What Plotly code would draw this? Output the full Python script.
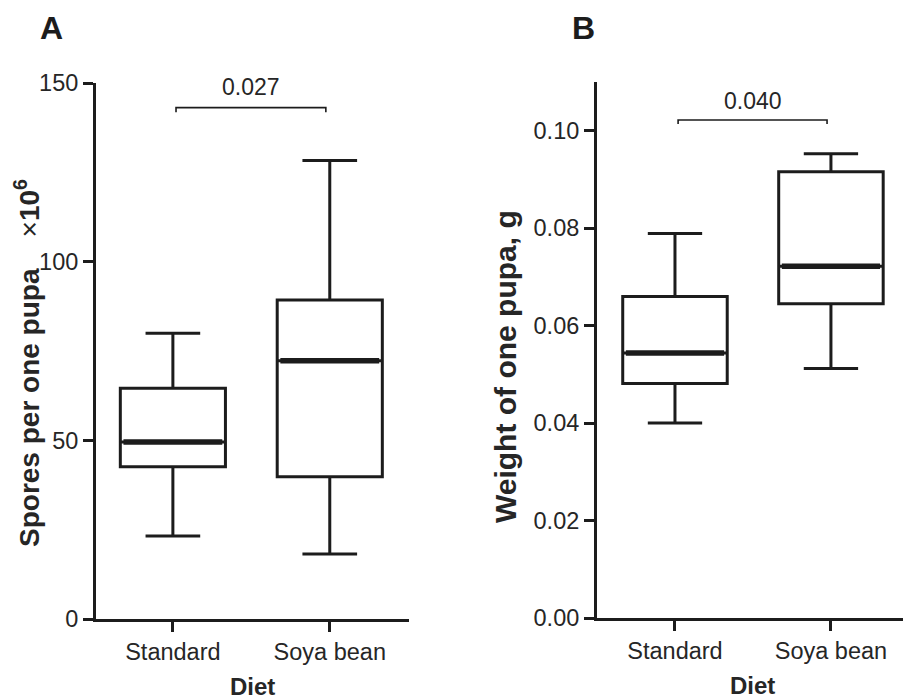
import plotly.graph_objects as go

# ---------------- data ----------------
categories = ["Standard", "Soya bean"]

# Panel A: spores per one pupa (x10^6)
a_lower = [23.2, 18.2]
a_q1 = [42.6, 39.8]
a_median = [49.5, 72.3]
a_q3 = [64.6, 89.3]
a_upper = [80.0, 128.3]
a_pvalue = "0.027"
a_bracket_y = 143.1
a_yticks = [0, 50, 100, 150]

# Panel B: weight of one pupa, g
b_lower = [0.0400, 0.0512]
b_q1 = [0.0481, 0.0645]
b_median = [0.0544, 0.0722]
b_q3 = [0.0660, 0.0916]
b_upper = [0.0789, 0.0953]
b_pvalue = "0.040"
b_bracket_y = 0.1022
b_yticks = [0.00, 0.02, 0.04, 0.06, 0.08, 0.10]

# ---------------- styling ----------------
INK = "#1c1c1c"
TXT = "#262626"
FONT = "Liberation Sans, Arial, sans-serif"
BOX_W = 0.67
W, H = 903, 700


def fx(px):  # screen x pixel -> paper fraction
    return px / W


def fy(py):  # screen y pixel -> paper fraction
    return 1 - py / H


positions = list(range(len(categories)))

fig = go.Figure()


def add_panel(xref, yref, lower, q1, med, q3, upper, pval, by, bracket_drop, yshift):
    fig.add_trace(go.Box(
        x=positions, lowerfence=lower, q1=q1, median=med, q3=q3, upperfence=upper,
        width=BOX_W, whiskerwidth=0.52, boxpoints=False,
        line=dict(color=INK, width=3), fillcolor="rgba(0,0,0,0)",
        xaxis=xref, yaxis=yref, showlegend=False, hoverinfo="skip",
    ))
    # thicker median lines
    for p, m in zip(positions, med):
        fig.add_shape(type="line", xref=xref, yref=yref,
                      x0=p - BOX_W / 2 + 0.02, x1=p + BOX_W / 2 - 0.02, y0=m, y1=m,
                      line=dict(color=INK, width=5.5))
    # significance bracket
    x0, x1 = positions[0] + 0.02, positions[1] - 0.025
    fig.add_trace(go.Scatter(
        x=[x0, x0, x1, x1], y=[by - bracket_drop, by, by, by - bracket_drop],
        mode="lines", line=dict(color=INK, width=1.6),
        xaxis=xref, yaxis=yref, showlegend=False, hoverinfo="skip",
    ))
    fig.add_annotation(x=(positions[0] + positions[1]) / 2, y=by, xref=xref, yref=yref,
                       text=pval, showarrow=False, xanchor="center", yanchor="bottom",
                       yshift=yshift, font=dict(size=23, color=TXT, family=FONT))


add_panel("x", "y", a_lower, a_q1, a_median, a_q3, a_upper, a_pvalue, a_bracket_y, 1.3, 6)
add_panel("x2", "y2", b_lower, b_q1, b_median, b_q3, b_upper, b_pvalue, b_bracket_y, 0.0008, 4)

axis_common = dict(showline=True, linewidth=3, linecolor=INK, ticks="outside",
                   ticklen=10, tickwidth=3, tickcolor=INK, showgrid=False,
                   zeroline=False, automargin=False,
                   tickfont=dict(size=23.5, color=TXT, family=FONT))

fig.update_layout(
    template="none",
    width=W, height=H,
    margin=dict(l=0, r=0, t=0, b=0, pad=0),
    plot_bgcolor="white", paper_bgcolor="white",
    font=dict(family=FONT, color=TXT),
    showlegend=False,
    xaxis=dict(domain=[fx(96), fx(409)], range=[-0.49, 1.505], anchor="y",
               tickvals=positions, ticktext=categories, **axis_common),
    yaxis=dict(domain=[fy(619), fy(83)], range=[0, 150], anchor="x",
               tickvals=a_yticks, **axis_common),
    xaxis2=dict(domain=[fx(597), 1.0], range=[-0.5, 1.462], anchor="y2",
                tickvals=positions, ticktext=categories, **axis_common),
    yaxis2=dict(domain=[fy(618), fy(82)], range=[0, 0.11], anchor="x2",
                tickvals=b_yticks, tickformat=".2f", **axis_common),
)

# titles as annotations (exact placement)
ann = dict(showarrow=False, xref="paper", yref="paper", xanchor="center", yanchor="middle")
fig.add_annotation(text="<b>A</b>", x=fx(51), y=fy(28), font=dict(size=32, color=INK, family=FONT), **ann)
fig.add_annotation(text="<b>B</b>", x=fx(583), y=fy(28), font=dict(size=32, color=INK, family=FONT), **ann)
fig.add_annotation(text="<b>Diet</b>", x=fx(252), y=fy(686), font=dict(size=24, color=TXT, family=FONT), **ann)
fig.add_annotation(text="<b>Diet</b>", x=fx(752), y=fy(685), font=dict(size=24, color=TXT, family=FONT), **ann)
fig.add_annotation(text="<b>Spores per one pupa</b>&nbsp;&nbsp;&nbsp;&nbsp;×<b>10<sup>6</sup></b>",
                   textangle=-90, x=fx(27), y=fy(363),
                   font=dict(size=28, color=TXT, family=FONT), **ann)
fig.add_annotation(text="<b>Weight of one pupa, g</b>", textangle=-90,
                   x=fx(505), y=fy(366), font=dict(size=30, color=TXT, family=FONT), **ann)

# remove the default page margin so the 903x700 figure fills the window exactly
fig.write_html(
    "out.html",
    config={"displayModeBar": False},
    post_script="document.documentElement.style.margin='0';"
                "document.body.style.margin='0';"
                "document.body.style.overflow='hidden';",
)
